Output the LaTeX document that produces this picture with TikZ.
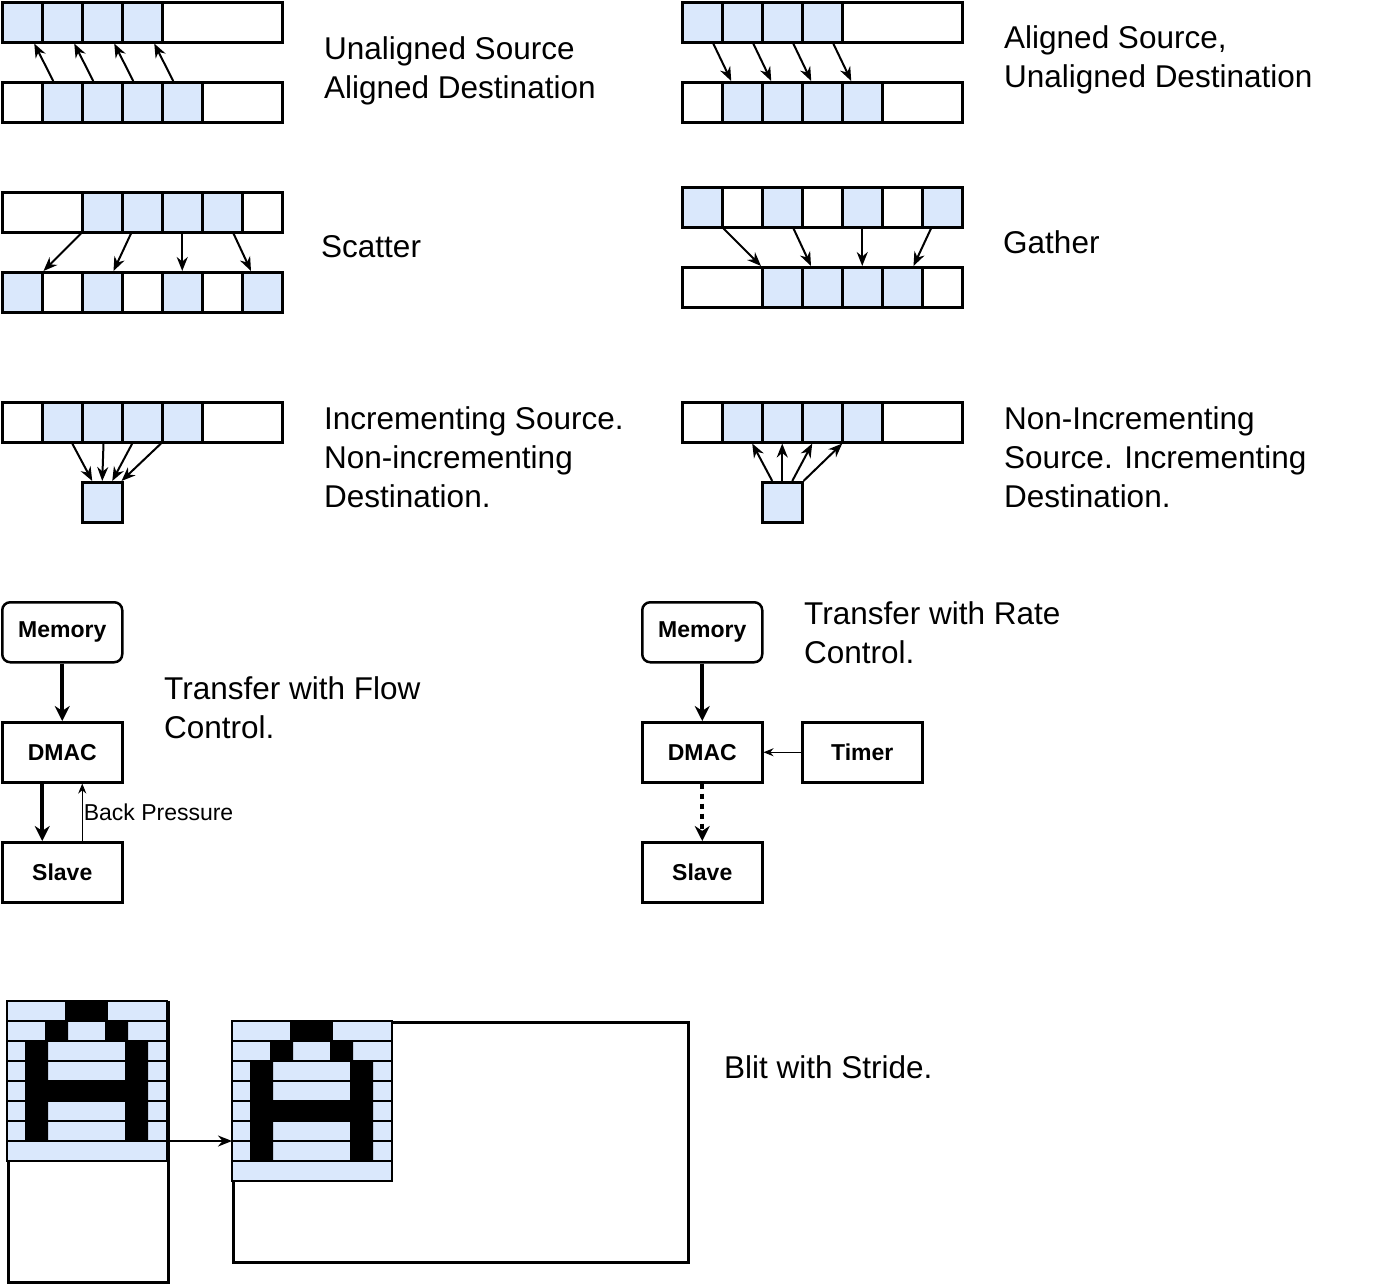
\documentclass[tikz,border=0pt]{standalone}
\usepackage{fontspec}
\setmainfont{Liberation Sans}
\usetikzlibrary{arrows.meta,positioning}
\definecolor{cellblue}{HTML}{DAE8FC}
\tikzset{
  box/.style={draw,line width=2.5pt,inner sep=0pt,anchor=north west},
  row/.style={box,minimum width=280pt,minimum height=40pt},
  cell/.style={box,fill=cellblue,minimum width=40pt,minimum height=40pt},
  unit/.style={box,minimum width=120pt,minimum height=60pt,font=\fontsize{23}{26}\selectfont\bfseries},
  lbl/.style={anchor=north west,align=left,inner sep=0pt,font=\fontsize{31.5}{39}\selectfont},
  arr/.style={line width=2pt,-{Stealth[length=14pt,width=11pt]}},
  fat/.style={line width=4pt,-{Stealth[length=15pt,width=15pt]}},
  thin/.style={line width=1pt,-{Stealth[length=10pt,width=8pt]}}
}
% draws the glyph at the given shift
\newcommand{\blitglyph}[2]{%
  \begin{scope}[shift={(#1,#2)}]
    \fill[cellblue] (0,0) rectangle (160,160);
    \fill (58,0) rectangle (101,20);
    \fill (38,20) rectangle (61,40) (98,20) rectangle (121,40);
    \fill (18,40) rectangle (41,140) (118,40) rectangle (141,140);
    \fill (18,80) rectangle (141,100);
    \foreach \r in {20,40,...,140} \draw[line width=1.5pt] (0,\r) -- (160,\r);
    \draw[line width=2.5pt] (0,0) rectangle (160,160);
  \end{scope}}
\begin{document}
\begin{tikzpicture}[x=1pt,y=-1pt]
\useasboundingbox (0,0) rectangle (1373,1283);

% unaligned source, aligned destination
\node[row] (uaT) at (1,1) {};
\foreach \i in {1,...,4} \node[cell] (ua\i) at ({1+40*(\i-1)},1) {};
\node[row] (uaB) at (1,81) {};
\foreach \i in {1,...,4} \node[cell] (ub\i) at ({41+40*(\i-1)},81) {};
\foreach \i in {1,...,4} \draw[arr] ([xshift=-9pt]ub\i.north) -- ([xshift=12pt]ua\i.south);
\node[lbl] (uaL) at (324,36) {Unaligned Source\\Aligned Destination};

% aligned source, unaligned destination
\node[row] (auT) at (681,1) {};
\foreach \i in {1,...,4} \node[cell] (au\i) at ({681+40*(\i-1)},1) {};
\node[row] (auB) at (681,81) {};
\foreach \i in {1,...,4} \node[cell] (av\i) at ({721+40*(\i-1)},81) {};
\foreach \i in {1,...,4} \draw[arr] ([xshift=11pt]au\i.south) -- ([xshift=-11pt]av\i.north);
\node[lbl] (auL) at (1004,25) {Aligned Source,\\Unaligned Destination};

% scatter
\node[row] (scT) at (1,191) {};
\foreach \i in {1,...,4} \node[cell] (sc\i) at ({81+40*(\i-1)},191) {};
\node[row] (scB) at (1,271) {};
\foreach \i in {1,...,4} \node[cell] (sd\i) at ({1+80*(\i-1)},271) {};
\draw[arr] (sc1.south west) -- (sd1.north east);
\draw[arr] ([xshift=10pt]sc2.south west) -- ([xshift=-10pt]sd2.north east);
\draw[arr] (sc3.south) -- (sd3.north);
\draw[arr] ([xshift=-10pt]sc4.south east) -- ([xshift=10pt]sd4.north west);
\node[lbl] (scL) at (321,235) {Scatter};

% gather
\node[row] (gaT) at (681,186) {};
\foreach \i in {1,...,4} \node[cell] (ga\i) at ({681+80*(\i-1)},186) {};
\node[row] (gaB) at (681,266) {};
\foreach \i in {1,...,4} \node[cell] (gb\i) at ({761+40*(\i-1)},266) {};
\draw[arr] (ga1.south east) -- (gb1.north west);
\draw[arr] ([xshift=-10pt]ga2.south east) -- ([xshift=10pt]gb2.north west);
\draw[arr] (ga3.south) -- (gb3.north);
\draw[arr] ([xshift=10pt]ga4.south west) -- ([xshift=-10pt]gb4.north east);
\node[lbl] (gaL) at (1003,230) {Gather};

% incrementing source, non-incrementing destination
\node[row] (inT) at (1,401) {};
\foreach \i in {1,...,4} \node[cell] (in\i) at ({41+40*(\i-1)},401) {};
\node[cell] (inD) at (81,481) {};
\draw[arr] ([xshift=10pt]in1.south) -- ([xshift=-10pt]inD.north);
\draw[arr] ([xshift=-20pt]in2.south east) -- (inD.north);
\draw[arr] ([xshift=-10pt]in3.south) -- ([xshift=10pt]inD.north);
\draw[arr] (in4.south west) -- ([xshift=-2pt]inD.north east);
\node[lbl] (inL) at (324,406) {Incrementing Source.\\Non-incrementing\\Destination.};

% non-incrementing source, incrementing destination
\node[row] (niT) at (681,401) {};
\foreach \i in {1,...,4} \node[cell] (ni\i) at ({721+40*(\i-1)},401) {};
\node[cell] (niS) at (761,481) {};
\draw[arr] ([xshift=-10pt]niS.north) -- ([xshift=10pt]ni1.south);
\draw[arr] (niS.north) -- (ni2.south);
\draw[arr] ([xshift=10pt]niS.north) -- ([xshift=-10pt]ni3.south);
\draw[arr] (niS.north east) -- ([xshift=-20pt]ni4.south);
\node[lbl] (niL) at (1004,406) {Non-Incrementing\\Source. Incrementing\\Destination.};

% transfer with flow control
\node[unit,rounded corners=8pt] (fcM) at (1,601) {Memory};
\node[unit] (fcD) at (1,721) {DMAC};
\node[unit] (fcS) at (1,841) {Slave};
\draw[fat] (fcM) -- (fcD);
\draw[fat] ([xshift=-20pt]fcD.south) -- ([xshift=-20pt]fcS.north);
\draw[thin] ([xshift=20pt]fcS.north) -- node[right=0pt,inner sep=1pt,font=\fontsize{23}{26}\selectfont]{Back Pressure} ([xshift=20pt]fcD.south);
\node[lbl] (fcL) at (164,676) {Transfer with Flow\\Control.};

% transfer with rate control
\node[unit,rounded corners=8pt] (rcM) at (641,601) {Memory};
\node[unit] (rcD) at (641,721) {DMAC};
\node[unit] (rcT) at (801,721) {Timer};
\node[unit] (rcS) at (641,841) {Slave};
\draw[fat] (rcM) -- (rcD);
\draw[fat,dash pattern=on 5pt off 5pt] (rcD) -- (rcS);
\draw[thin] (rcT) -- (rcD);
\node[lbl] (rcL) at (804,601) {Transfer with Rate\\Control.};

% blit with stride
\node[box,minimum width=160pt,minimum height=280pt] (blS) at (7,1001) {};
\blitglyph{7}{1001}
\node[box,minimum width=455pt,minimum height=240pt] (blD) at (232,1021) {};
\blitglyph{232}{1021}
\coordinate (blA) at (7+160,1141);
\draw[arr] (blA) -- (blD.west |- blA);
\node[lbl] (blL) at (724,1055) {Blit with Stride.};
\end{tikzpicture}
\end{document}
